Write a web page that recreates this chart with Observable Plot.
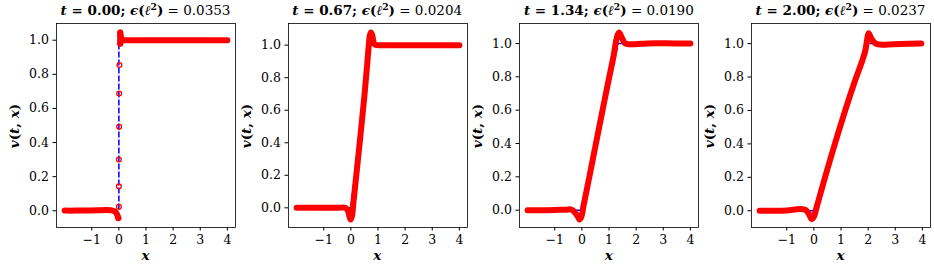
<!DOCTYPE html>
<html>
<head>
<meta charset="utf-8">
<script src="https://cdn.jsdelivr.net/npm/d3@7"></script>
<script src="https://cdn.jsdelivr.net/npm/@observablehq/plot@0.6"></script>
<style>
  body { margin: 0; background: #fff; }
  #fig { position: relative; width: 934px; height: 266px; overflow: hidden; font-family: "DejaVu Serif", "Liberation Serif", serif; color: #000; }
  .panel { position: absolute; top: 0; width: 236px; height: 266px; }
  .panel svg { position: absolute; left: 0; top: 0; }
  .panel svg text { font-family: "DejaVu Serif", serif !important; font-size: 12.5px !important; }
  .title { position: absolute; top: 4px; font-size: 13.5px; line-height: 1; white-space: nowrap; transform: translateX(-50%); }
  .title .b { font-weight: bold; }
  .title sup { font-size: 0.68em; line-height: 0; vertical-align: 0.5em; }
  .ylab { position: absolute; font-size: 13.5px; font-weight: bold; white-space: nowrap; line-height: 1; transform: translate(-50%, -50%) rotate(-90deg); }
  .xlab { position: absolute; font-size: 13.5px; font-weight: bold; font-style: italic; line-height: 1; transform: translate(-50%, -50%); }
</style>
</head>
<body>
<div id="fig"></div>
<script>
// ---- data ----
const times = ["0.00", "0.67", "1.34", "2.00"];
const errors = ["0.0353", "0.0204", "0.0190", "0.0237"];
const xTicks = [-1, 0, 1, 2, 3, 4];
const yTicks = [0, 0.2, 0.4, 0.6, 0.8, 1.0];

// exact solution (blue dashed)
const exactX_0 = [-2, 0, 0, 4],    exactV_0 = [0, 0, 1, 1];
const exactX_1 = [-2, 0, 0.67, 4], exactV_1 = [0, 0, 1, 1];
const exactX_2 = [-2, 0, 1.34, 4], exactV_2 = [0, 0, 1, 1];
const exactX_3 = [-2, 0, 2.0, 4],  exactV_3 = [0, 0, 1, 1];

// prediction, dense parts (red band); NaN separates pieces
const curveX_0 = [-2.0, -1.6, -1.2, -0.8, -0.5, -0.3, -0.15, -0.07, -0.02, NaN, 0.05, 0.05, 0.08, 0.13, 0.2, 0.3, 1.0, 2.0, 3.0, 4.0];
const curveV_0 = [0.001, 0.001, 0.002, 0.003, 0.004, 0.003, -0.004, -0.02, -0.043, NaN, 0.98, 1.045, 1.02, 1.005, 1.0, 1.0, 1.0, 1.0, 1.0, 1.0];
const curveX_1 = [-2.0, -1.5, -1.0, -0.5, -0.21, -0.11, -0.05, -0.01, 0.04, 0.1, 0.2, 0.35, 0.5, 0.6, 0.65, 0.7, 0.74, 0.79, 0.84, 0.9, 0.96, 1.2, 2.0, 3.0, 4.0];
const curveV_1 = [0, 0, 0, 0, 0, -0.018, -0.055, -0.072, -0.05, 0.043, 0.2, 0.44, 0.69, 0.88, 0.98, 1.06, 1.078, 1.06, 1.016, 1.002, 1.0, 1.0, 1.0, 1.0, 1.0];
const curveX_2 = [-2.0, -1.5, -1.0, -0.6, -0.37, -0.21, -0.13, -0.09, -0.02, 0.06, 0.3, 0.5, 0.75, 0.98, 1.17, 1.29, 1.37, 1.47, 1.6, 1.78, 2.2, 2.76, 3.4, 4.0];
const curveV_2 = [0, 0, 0.001, 0.003, 0.003, -0.024, -0.044, -0.056, -0.04, 0.026, 0.22, 0.385, 0.59, 0.776, 0.926, 1.036, 1.066, 1.036, 1.0, 0.996, 0.998, 1.002, 1.0, 1.0];
const curveX_3 = [-2.0, -1.5, -1.0, -0.49, -0.3, -0.18, -0.085, 0.0, 0.1, 0.5, 1.0, 1.5, 1.79, 1.9, 1.97, 2.02, 2.13, 2.28, 2.44, 2.93, 3.5, 3.96];
const curveV_3 = [0, 0, 0.002, 0.01, 0.004, -0.02, -0.05, -0.036, 0.02, 0.25, 0.52, 0.77, 0.9, 0.96, 1.03, 1.062, 1.026, 1.0, 0.994, 0.996, 0.999, 1.0];

// prediction, isolated circles (only across the t = 0 jump)
const sparseX_0 = [-0.02, 0, 0, 0, 0.01, 0.01, 0.02, 0.05, 0.05];
const sparseV_0 = [-0.043, 0.023, 0.143, 0.301, 0.492, 0.688, 0.855, 0.98, 1.045];

// ---- build ----
const pts = (xs, vs) => xs.map((x, i) => ({x, v: vs[i]}));
const panels = [
  {t: times[0], err: errors[0], exact: pts(exactX_0, exactV_0), curve: pts(curveX_0, curveV_0), sparse: pts(sparseX_0, sparseV_0), yDom: [-0.098, 1.098]},
  {t: times[1], err: errors[1], exact: pts(exactX_1, exactV_1), curve: pts(curveX_1, curveV_1), sparse: [], yDom: [-0.121, 1.133]},
  {t: times[2], err: errors[2], exact: pts(exactX_2, exactV_2), curve: pts(curveX_2, curveV_2), sparse: [], yDom: [-0.104, 1.12]},
  {t: times[3], err: errors[3], exact: pts(exactX_3, exactV_3), curve: pts(curveX_3, curveV_3), sparse: [], yDom: [-0.1, 1.12]}
];
const offsets = [0, 231.67, 463.33, 695];
const ML = 56, FW = 179;
const fig = document.getElementById("fig");
const minus = d => (d < 0 ? "\u2212" + (-d) : String(d));

panels.forEach((p, i) => {
  const div = document.createElement("div");
  div.className = "panel";
  div.style.left = offsets[i] + "px";
  const svg = Plot.plot({
    width: 236, height: 266,
    marginLeft: ML, marginRight: 236 - ML - FW, marginTop: 23, marginBottom: 39,
    x: {domain: [-2.3, 4.3]},
    y: {domain: p.yDom},
    style: {fontFamily: "DejaVu Serif, serif", fontSize: "12.5px", color: "black", background: "transparent", overflow: "visible"},
    marks: [
      Plot.line(p.exact, {x: "x", y: "v", stroke: "#0000ff", strokeWidth: 1.5, strokeDasharray: "5,3"}),
      Plot.line(p.curve, {x: "x", y: "v", stroke: "#ff0000", strokeWidth: 6, strokeLinejoin: "round", strokeLinecap: "round", curve: "catmull-rom"}),
      Plot.dot(p.sparse, {x: "x", y: "v", r: 2.4, stroke: "#ff0000", strokeWidth: 1.3, fill: "none"}),
      Plot.frame({stroke: "black", strokeWidth: 0.8}),
      Plot.axisX({ticks: xTicks, tickSize: 3.5, tickPadding: 4, label: null, tickFormat: minus}),
      Plot.axisY({ticks: yTicks, tickSize: 3.5, tickPadding: 4, label: null, tickFormat: d3.format(".1f")})
    ]
  });
  div.appendChild(svg);

  const cx = ML + FW / 2;
  const title = document.createElement("div");
  title.className = "title";
  title.style.left = cx + "px";
  title.innerHTML = `<span class="b"><i>t</i> = ${p.t}; <i>\u03f5</i>(<i>\u2113</i><sup>2</sup>)</span> = ${p.err}`;
  div.appendChild(title);

  const yl = document.createElement("div");
  yl.className = "ylab";
  yl.style.left = "15px";
  yl.style.top = "126px";
  yl.innerHTML = "<i>v</i>(<i>t</i>, <i>x</i>)";
  div.appendChild(yl);

  const xl = document.createElement("div");
  xl.className = "xlab";
  xl.style.left = cx + "px";
  xl.style.top = "256px";
  xl.textContent = "x";
  div.appendChild(xl);

  fig.appendChild(div);
});
</script>
</body>
</html>
